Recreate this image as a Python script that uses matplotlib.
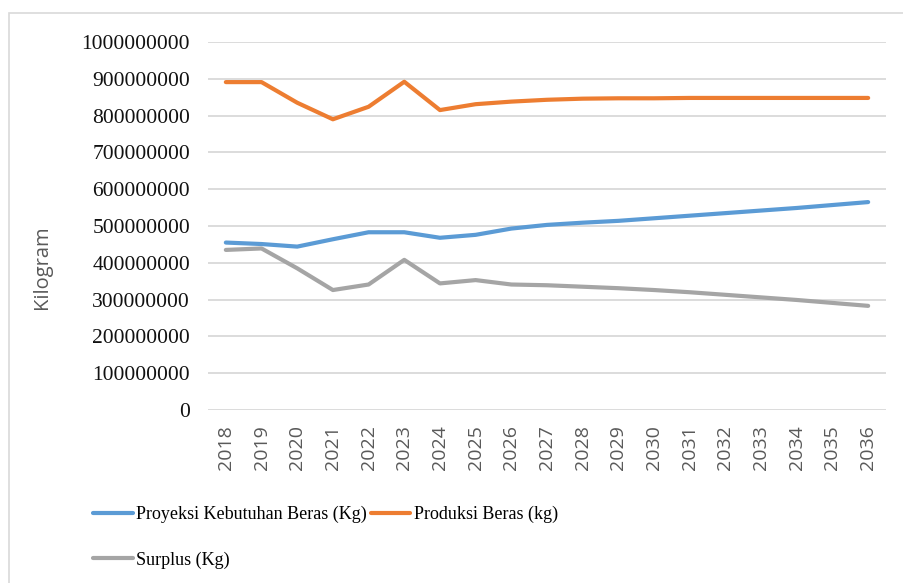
import matplotlib
matplotlib.use("Agg")
import matplotlib.pyplot as plt
from matplotlib.patches import Rectangle

years = list(range(2018, 2037))
demand = [455, 451, 444, 464, 483, 483, 468, 476, 493, 503, 509, 514, 521, 528, 535, 542, 549, 557, 565]
production = [891, 891, 835, 790, 824, 892, 815, 831, 838, 843, 846, 847, 847, 848, 848, 848, 848, 848, 848]
surplus = [435, 439, 385, 326, 341, 408, 344, 353, 341, 339, 335, 331, 326, 320, 313, 306, 299, 291, 283]
scale = 1_000_000
labels = ["Proyeksi Kebutuhan Beras (Kg)", "Produksi Beras (kg)", "Surplus (Kg)"]
colors = ["#5b9bd5", "#ed7d31", "#a5a5a5"]
yticks = list(range(0, 1_000_000_001, 100_000_000))

W, H = 904, 583
fig = plt.figure(figsize=(W / 100, H / 100), dpi=100)
ax = fig.add_axes([208 / W, 1 - 410 / H, (886 - 208) / W, (410 - 42) / H])

handles = []
for vals, lab, c in zip([demand, production, surplus], labels, colors):
    h, = ax.plot(years, [v * scale for v in vals], color=c, lw=3.0,
                 solid_capstyle="round", solid_joinstyle="round", label=lab)
    handles.append(h)

ax.set_xlim(2017.5, 2036.5)
ax.set_ylim(0, 1_000_000_000)
ax.set_yticks(yticks)
ax.set_yticklabels([str(v) for v in yticks], fontfamily="Liberation Serif", fontsize=15.5, color="#111111")
ax.set_xticks(years)
ax.set_xticklabels([str(y) for y in years], rotation=90, fontfamily="Open Sans", fontsize=14, color="#595959")
ax.tick_params(axis="y", length=0, pad=13)
ax.tick_params(axis="x", length=0, pad=11)
ax.grid(axis="y", color="#d9d9d9", lw=1.3)
ax.set_axisbelow(True)
for s in ax.spines.values():
    s.set_visible(False)

fig.text(42 / W, 1 - 267 / H, "Kilogram", rotation=90, ha="center", va="center",
         fontfamily="Open Sans", fontsize=14.5, color="#595959")

leg = fig.legend([handles[0], handles[2], handles[1]], [labels[0], labels[2], labels[1]],
                 ncol=2, loc="upper left", bbox_to_anchor=(93 / W, 1 - 506 / H),
                 frameon=False, prop={"family": "Liberation Serif", "size": 13},
                 handlelength=2.2, handletextpad=0.2, columnspacing=0.2, labelspacing=1.55,
                 borderpad=0, borderaxespad=0)

fig.patches.append(Rectangle((9 / W, -0.1), 1.2, 1 - 13 / H + 0.1, transform=fig.transFigure,
                             fill=False, edgecolor="#d9d9d9", lw=1.2))

fig.savefig("out.png", dpi=100)
